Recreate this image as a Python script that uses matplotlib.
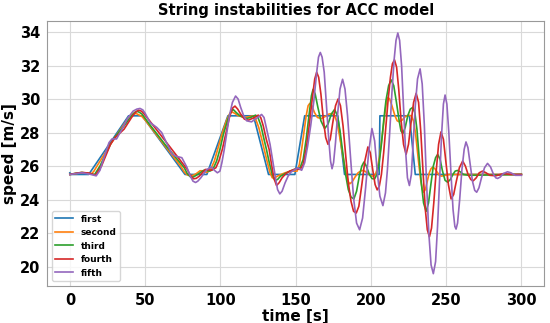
import matplotlib.pyplot as plt

# leader
t_first = [0, 0.5, 12.5, 39, 48, 76.5, 91, 105, 122, 132, 149.5, 156, 178, 182.5,
           205.5, 206, 225.6, 229.5, 300]
v_first = [25.6, 25.5, 25.5, 29, 29, 25.5, 25.5, 29, 29, 25.5, 25.5, 29, 29, 25.5,
           25.5, 29, 29, 25.5, 25.5]

t_second = [0, 4, 7, 10, 12.5, 14.5, 16, 18, 27, 36, 39, 40.5, 42.5, 44.5, 46, 48, 50,
            62, 74, 76, 78, 80, 82, 84, 86.5, 88, 91, 93.5, 96, 98.2, 101, 104, 106,
            107.5, 109.5, 112, 116.3, 119, 121.8, 123.5, 125.5, 127.5, 129.1, 131, 133,
            134.5, 135.5, 137, 139, 143, 147, 151, 152.5, 154, 155.5, 157, 158.3, 159.4,
            160.8, 162.5, 164.5, 167.1, 169.5, 172, 174.2, 176, 177.5, 179, 180.5, 182,
            183.5, 184.8, 185.9, 187.5, 189.5, 191.5, 194, 196, 198, 200, 201.5, 203,
            204.5, 206, 207.5, 209, 210.3, 211.3, 212.5, 214, 216, 217.5, 219, 220.8,
            222.8, 225, 226.8, 228.3, 229.6, 230.8, 232, 233.2, 234.2, 235.1, 236.2,
            237.5, 238.8, 240, 241.1, 242.5, 244, 245.5, 247, 249.5, 252, 300]
v_second = [25.5, 25.55, 25.6, 25.6, 25.55, 25.55, 25.7, 26.0, 27.3, 28.5, 28.9, 29.05,
            29.14, 29.12, 29.05, 28.95, 28.75, 27.35, 25.95, 25.65, 25.47, 25.42, 25.45,
            25.55, 25.72, 25.72, 25.62, 25.8, 26.3, 27.0, 27.9, 28.7, 29.1, 29.24, 29.15,
            29.0, 28.9, 28.95, 29.0, 28.8, 28.3, 27.6, 27.0, 26.3, 25.6, 25.3, 25.28,
            25.35, 25.45, 25.6, 25.7, 25.7, 26.1, 27.0, 28.0, 29.0, 29.6, 29.74, 29.6,
            29.2, 28.9, 28.84, 28.95, 29.1, 29.14, 29.0, 28.6, 27.9, 27.1, 26.3, 25.6,
            25.1, 24.94, 25.05, 25.35, 25.6, 25.74, 25.7, 25.55, 25.42, 25.4, 25.5, 25.9,
            26.7, 27.8, 28.9, 29.8, 30.1, 30.0, 29.6, 29.0, 28.7, 28.64, 28.75, 28.95,
            29.04, 29.0, 28.7, 28.0, 27.0, 26.0, 25.1, 24.6, 24.44, 24.6, 25.1, 25.6,
            25.85, 25.94, 25.85, 25.65, 25.45, 25.4, 25.45, 25.5, 25.5]

t_third = [0, 4, 8, 13, 16.5, 20, 28, 36, 41, 43, 44.5, 46, 48, 52, 64, 76, 78, 80.3,
           82, 84, 89, 93, 95, 97.5, 99.7, 102, 105, 107, 108.5, 110.5, 113, 117.3, 120,
           123.4, 125, 127, 129, 130.6, 132.5, 134.5, 136.2, 138, 140, 144, 149, 153,
           155, 157, 159, 160.5, 161.6, 163, 164.8, 166.8, 169.3, 171.5, 173.7, 175.9,
           177.8, 179.5, 181.2, 183, 185, 186.8, 188.7, 190.5, 192.3, 194, 195.4, 197,
           199, 200.8, 202.5, 204, 205.5, 207, 208.5, 210, 211.8, 213.5, 215.2, 217,
           218.8, 220, 221.2, 222.8, 224.5, 226.2, 227.8, 229.2, 230.6, 232, 233.5, 235,
           236.7, 238.3, 240, 241.5, 243, 244.4, 246, 247.6, 249.3, 251, 252.8, 254.5,
           256, 257.6, 259.5, 261.5, 265, 300]
v_third = [25.5, 25.57, 25.62, 25.55, 25.5, 26.0, 27.5, 28.4, 29.0, 29.2, 29.27, 29.22,
           29.1, 28.6, 27.2, 25.9, 25.55, 25.34, 25.35, 25.45, 25.75, 25.7, 25.8, 26.3,
           27.0, 27.9, 28.8, 29.25, 29.38, 29.2, 29.0, 28.84, 28.9, 29.04, 28.9, 28.4,
           27.6, 27.0, 26.2, 25.5, 25.14, 25.2, 25.4, 25.6, 25.8, 25.9, 26.4, 27.6, 29.1,
           30.2, 30.58, 30.3, 29.5, 28.7, 28.24, 28.5, 29.1, 29.38, 29.0, 28.1, 26.9,
           25.6, 24.6, 24.15, 24.04, 24.5, 25.4, 26.0, 26.24, 26.0, 25.5, 25.25, 25.24,
           25.5, 26.2, 27.3, 28.7, 29.9, 30.8, 31.14, 30.8, 29.8, 28.7, 28.1, 27.94, 28.3,
           29.0, 29.4, 29.5, 29.2, 28.2, 26.6, 25.0, 23.8, 23.3, 23.8, 25.0, 26.0, 26.5,
           26.7, 26.4, 25.7, 25.15, 25.04, 25.2, 25.5, 25.7, 25.74, 25.65, 25.5, 25.45,
           25.5]

t_fourth = [0, 4, 8, 13, 17, 21, 27, 30, 36, 41, 43.5, 45.6, 47.5, 49, 53, 66, 78, 80,
            82.1, 84, 86, 90, 94, 97, 99, 101.3, 103.5, 106, 108, 109.7, 111.5, 113.5,
            116, 118.5, 121.5, 125.2, 126.8, 128.5, 130.5, 132.4, 133.8, 135.5, 137.3,
            139, 141, 143.5, 146, 150.5, 153, 155, 157, 159, 161, 162.7, 164, 165.3,
            166.8, 168.5, 170, 171.5, 173, 174.7, 176.5, 178.2, 179.8, 181.5, 183.3, 185,
            186.8, 188.5, 190.3, 192, 194, 196, 198, 199.6, 201.2, 202.8, 204.2, 205.6,
            207, 208.5, 210, 211.5, 213, 214.3, 215.7, 217.1, 218.5, 220, 221.7, 223.4,
            225, 226.7, 228.4, 230.1, 231.7, 233.2, 234.7, 236.2, 237.5, 238.9, 240.3,
            241.8, 243.3, 245, 246.6, 248.2, 249.8, 251.5, 253.3, 255, 256.8, 258.8, 261,
            262.8, 264.6, 266.4, 268, 270, 272, 274.2, 276.5, 279, 283, 288, 293, 300]
v_fourth = [25.5, 25.57, 25.62, 25.58, 25.45, 26.0, 27.3, 27.7, 28.2, 28.9, 29.2, 29.34,
            29.28, 29.15, 28.7, 27.2, 25.8, 25.45, 25.24, 25.27, 25.4, 25.8, 25.75, 25.9,
            26.3, 27.0, 27.9, 28.9, 29.45, 29.58, 29.4, 29.1, 28.8, 28.74, 28.85, 29.04,
            28.9, 28.4, 27.6, 27.0, 26.2, 25.3, 24.84, 25.0, 25.3, 25.55, 25.7, 25.84,
            25.8, 26.1, 27.0, 28.4, 30.0, 31.2, 31.6, 31.3, 30.3, 28.7, 27.7, 27.3, 27.6,
            28.6, 29.6, 30.0, 29.6, 28.4, 26.6, 25.0, 23.9, 23.3, 23.2, 23.6, 24.9, 26.3,
            27.14, 26.8, 25.8, 24.9, 24.58, 24.8, 25.5, 26.8, 28.4, 30.0, 31.3, 32.1,
            32.34, 31.9, 30.6, 28.8, 27.3, 26.7, 27.3, 28.6, 29.8, 30.34, 29.8, 28.0, 25.6,
            23.4, 22.2, 21.78, 22.3, 23.8, 25.6, 27.3, 28.04, 27.6, 26.3, 24.9, 24.04,
            24.3, 25.1, 25.9, 26.3, 26.0, 25.5, 25.2, 25.12, 25.3, 25.6, 25.7, 25.6, 25.45,
            25.42, 25.55, 25.5, 25.5]

t_fifth = [0, 4, 8, 13, 17.5, 20, 23, 26, 28, 31, 34, 38, 42, 44.5, 46.6, 48.5, 50,
           53.3, 57.8, 61, 67.7, 70, 74.4, 77.7, 80, 81.8, 83.5, 85, 87, 91, 94.2, 96,
           98, 99.7, 101, 102.6, 104.3, 106, 108, 110.1, 111.8, 113.5, 115.5, 117.5,
           120.7, 124, 127.4, 129, 131, 133, 135, 136.8, 138, 139.5, 141, 143, 145, 147,
           151.6, 154, 156, 158, 160, 162, 164, 165.2, 166.4, 167.6, 169, 170.5, 172,
           173.2, 174.2, 175.2, 176.5, 178, 179.5, 181.2, 182.8, 184.5, 186.5, 188.5,
           190.5, 192.5, 194.5, 196.5, 198.5, 200.7, 202.5, 204.3, 206, 208, 209.7, 211,
           212.5, 214, 215.5, 216.7, 217.9, 219.1, 220.4, 221.8, 223, 224.3, 225.6,
           226.9, 228, 229.5, 231, 232.7, 234.1, 235.5, 237, 238.5, 240, 241.5, 243,
           244.3, 245.7, 247, 248.2, 249.3, 250.5, 251.8, 253.2, 254.6, 255.8, 256.6,
           257.6, 259, 260.5, 262, 263.2, 264.5, 266, 267.5, 269, 270.3, 271.8, 273.5,
           275.5, 277.5, 279.5, 281.5, 283, 284.2, 286, 288, 290.8, 293, 296, 300]
v_fifth = [25.5, 25.55, 25.6, 25.52, 25.42, 25.75, 26.6, 27.4, 27.62, 27.62, 28.1, 28.8,
           29.28, 29.4, 29.44, 29.35, 29.15, 28.6, 28.3, 28.0, 26.74, 26.6, 26.5, 25.94,
           25.4, 25.1, 25.02, 25.1, 25.3, 25.8, 25.94, 25.75, 25.6, 25.7, 26.2, 27.0,
           28.0, 29.0, 29.8, 30.18, 30.0, 29.5, 29.0, 28.7, 28.64, 28.85, 29.08, 28.9,
           28.1, 27.3, 26.2, 25.2, 24.6, 24.34, 24.5, 25.0, 25.4, 25.65, 25.9, 25.75,
           26.2, 27.2, 28.4, 29.8, 31.6, 32.5, 32.78, 32.5, 31.6, 29.6, 27.6, 26.3, 25.84,
           26.2, 27.4, 29.2, 30.6, 31.18, 30.6, 29.0, 26.5, 24.1, 22.6, 22.2, 22.9, 24.7,
           26.8, 28.24, 27.5, 25.6, 24.2, 23.64, 24.4, 25.8, 28.0, 30.4, 32.4, 33.5, 33.94,
           33.5, 32.0, 29.3, 27.0, 25.3, 24.84, 25.5, 27.2, 29.6, 31.2, 31.8, 30.9, 28.5,
           25.0, 22.0, 20.1, 19.58, 20.3, 22.4, 25.3, 27.9, 29.7, 30.24, 29.7, 28.0, 25.6,
           23.4, 22.4, 22.24, 22.6, 24.0, 25.8, 27.0, 27.44, 27.1, 26.1, 25.1, 24.55,
           24.44, 24.7, 25.3, 25.9, 26.16, 25.95, 25.5, 25.3, 25.26, 25.35, 25.55, 25.66,
           25.6, 25.45, 25.45]

fig = plt.figure(figsize=(5.5, 3.23), dpi=100)
ax = fig.add_axes([0.086, 0.1155, 0.903, 0.8195])

ax.plot(t_first, v_first, label='first', lw=1.2)
ax.plot(t_second, v_second, label='second', lw=1.2)
ax.plot(t_third, v_third, label='third', lw=1.2)
ax.plot(t_fourth, v_fourth, label='fourth', lw=1.2)
ax.plot(t_fifth, v_fifth, label='fifth', lw=1.2)

ax.set_xticks([0, 50, 100, 150, 200, 250, 300])
ax.set_yticks([20, 22, 24, 26, 28, 30, 32, 34])
ax.grid(True, color='0.85', lw=0.8)
ax.set_axisbelow(True)
for s in ax.spines.values():
    s.set_color('0.6')
ax.tick_params(length=0, labelsize=10.5, pad=5)
for lbl in ax.get_xticklabels() + ax.get_yticklabels():
    lbl.set_fontweight('bold')

ax.set_xlabel('time [s]', fontsize=11, fontweight='bold', labelpad=1)
ax.set_ylabel('speed [m/s]', fontsize=11, fontweight='bold', labelpad=2)
ax.set_title('String instabilities for ACC model', fontsize=10.5, fontweight='bold', pad=4)

ax.legend(loc='lower left', prop={'size': 6.5, 'weight': 'bold'})

fig.savefig('out.png', dpi=100)
